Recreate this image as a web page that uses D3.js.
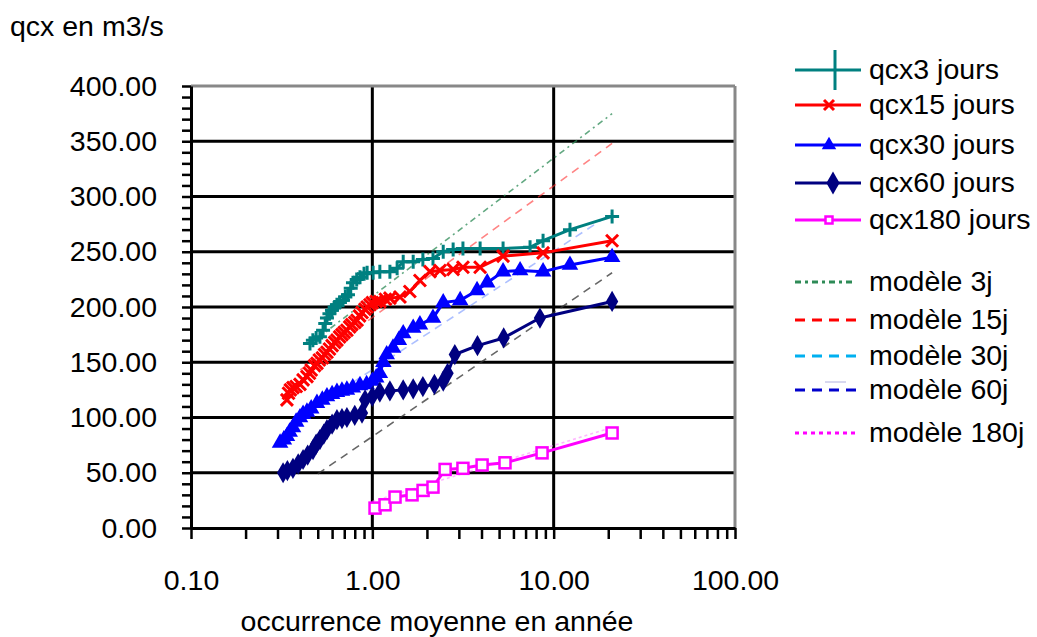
<!DOCTYPE html>
<html><head><meta charset="utf-8">
<script src="https://cdn.jsdelivr.net/npm/d3@7"></script>
<style>
body{margin:0;background:#fff;}
text{font-family:"Liberation Sans",Arial,sans-serif;fill:#000;}
</style>
</head><body>
<svg id="c" width="1037" height="637"></svg>
<script>
// ---------- data (x = occurrence moyenne en année, v = qcx m3/s) ----------
const yTickValues = [0,50,100,150,200,250,300,350,400];
const xTickValues = [0.1,1,10,100];

const qcx3 = [[0.453,167],[0.47,170],[0.49,172],[0.514,173],[0.535,179],[0.55,185],[0.562,190],[0.58,194],[0.599,197],[0.62,200],[0.638,202],[0.66,204],[0.689,206],[0.71,209],[0.734,211],[0.76,217],[0.782,222],[0.82,225],[0.855,227],[0.9,230],[0.936,231],[1.01,231],[1.1,232],[1.25,232],[1.37,235],[1.48,241],[1.68,241],[1.9,243],[2.16,244],[2.46,250],[2.79,252],[3.16,253],[3.93,253],[5.26,253],[7.41,254],[8.74,260],[12.3,270],[21,282]];
const qcx15 = [[0.338,116],[0.345,122],[0.353,125],[0.365,127],[0.38,128],[0.399,130],[0.415,134],[0.436,137],[0.45,140],[0.46,143],[0.48,147],[0.495,149],[0.51,152],[0.53,154],[0.545,157],[0.562,159],[0.58,162],[0.6,165],[0.62,168],[0.638,170],[0.66,173],[0.68,175],[0.7,177],[0.724,179],[0.75,182],[0.77,184],[0.8,186],[0.823,188],[0.85,192],[0.877,195],[0.91,198],[0.936,200],[0.97,202],[1.0,204],[1.05,205],[1.1,205],[1.18,207],[1.25,208],[1.42,209],[1.61,214],[1.83,224],[2.08,232],[2.36,233],[2.79,234],[3.16,236],[3.93,236],[5.26,246],[8.74,249],[21,260]];
const qcx30 = [[0.31,77],[0.325,80],[0.338,83],[0.35,87],[0.365,91],[0.38,96],[0.399,100],[0.415,103],[0.436,105],[0.46,108],[0.495,113],[0.53,116],[0.562,119],[0.6,121],[0.638,123],[0.68,124],[0.724,125],[0.78,127],[0.855,129],[0.93,130],[1.0,133],[1.05,136],[1.1,140],[1.15,150],[1.2,157],[1.3,163],[1.4,170],[1.48,176],[1.68,181],[1.83,184],[2.16,190],[2.46,204],[3.05,206],[3.78,215],[4.3,222],[5.26,232],[6.53,233],[8.74,232],[12.3,238],[21,245]];
const qcx60 = [[0.322,50],[0.34,52],[0.365,54],[0.39,58],[0.415,62],[0.44,66],[0.471,71],[0.49,76],[0.514,80],[0.54,85],[0.562,89],[0.6,94],[0.638,98],[0.68,99],[0.724,100],[0.8,102],[0.877,104],[0.912,116],[1.0,119],[1.1,123],[1.25,124],[1.48,125],[1.68,126],[1.9,128],[2.2,130],[2.46,133],[2.6,140],[2.85,157],[3.8,165],[5.3,172],[8.4,190],[21,205]];
const qcx180 = [[1.035,18],[1.175,21],[1.334,28],[1.656,30],[1.905,34],[2.16,37],[2.52,53],[3.16,54],[4.03,57],[5.39,59],[8.63,68],[21,86]];

const model3j = [[0.5,172],[21,375]];
const model15j = [[0.4,143],[21,348]];
const model30j = [[0.5,111],[21,285]];
const model60j = [[0.5,49],[21,231]];
const model180j = [[1,24],[21,91]];

const seriesNames = ["qcx3 jours","qcx15 jours","qcx30 jours","qcx60 jours","qcx180 jours"];
const modelNames = ["modèle 3j","modèle 15j","modèle 30j","modèle 60j","modèle 180j"];

// ---------- layout ----------
const svg = d3.select("#c");
const x = d3.scaleLog().domain([0.1,100]).range([191,735]);
const y = d3.scaleLinear().domain([0,400]).range([528,86]);
const FS = 28.5;

// grid
const g = svg.append("g");
g.selectAll("line.h").data(yTickValues.filter(v=>v>0&&v<400)).enter().append("line")
  .attr("x1",x(0.1)).attr("x2",x(100)).attr("y1",d=>y(d)).attr("y2",d=>y(d))
  .attr("stroke","#000").attr("stroke-width",3);
g.selectAll("line.v").data([1,10]).enter().append("line")
  .attr("x1",d=>x(d)).attr("x2",d=>x(d)).attr("y1",y(0)).attr("y2",y(400))
  .attr("stroke","#000").attr("stroke-width",3);
g.append("line").attr("x1",x(0.1)).attr("x2",x(100)).attr("y1",y(400)).attr("y2",y(400)).attr("stroke","#888").attr("stroke-width",3);
g.append("line").attr("x1",x(100)).attr("x2",x(100)).attr("y1",y(0)).attr("y2",y(400)).attr("stroke","#888").attr("stroke-width",3);

// axes
const yMinor = svg.append("g").attr("transform",`translate(${x(0.1)},0)`)
  .call(d3.axisLeft(y).tickValues(d3.range(0,401,10)).tickSize(9).tickSizeOuter(0).tickFormat(""));
yMinor.select(".domain").attr("stroke-width",3);
yMinor.selectAll(".tick line").attr("stroke-width",2.5);
const yLab = svg.append("g").attr("transform",`translate(${x(0.1)},0)`)
  .call(d3.axisLeft(y).tickValues(yTickValues).tickSize(0).tickPadding(34).tickFormat(d3.format(".2f")));
yLab.select(".domain").remove();
yLab.selectAll("text").attr("font-size",FS).attr("font-family","Liberation Sans, Arial, sans-serif").attr("fill","#000");

const xMinorVals = [];
[0.1,1,10].forEach(d=>{for(let k=1;k<10;k++) xMinorVals.push(d*k);});
xMinorVals.push(100);
const xMinor = svg.append("g").attr("transform",`translate(0,${y(0)})`)
  .call(d3.axisBottom(x).tickValues(xMinorVals).tickSize(11).tickSizeOuter(0).tickFormat(""));
xMinor.select(".domain").attr("stroke-width",3);
xMinor.selectAll(".tick line").attr("stroke-width",2.5);
const xLab = svg.append("g").attr("transform",`translate(0,${y(0)})`)
  .call(d3.axisBottom(x).tickValues(xTickValues).tickSize(0).tickPadding(42).tickFormat(d3.format(".2f")));
xLab.select(".domain").remove();
xLab.selectAll("text").attr("font-size",FS).attr("font-family","Liberation Sans, Arial, sans-serif").attr("fill","#000");

// titles
svg.append("text").attr("x",10).attr("y",36).attr("font-size",FS).text("qcx en m3/s");
svg.append("text").attr("x",437).attr("y",631).attr("text-anchor","middle").attr("font-size",FS).text("occurrence moyenne en année");

// ---------- models ----------
const line = d3.line().x(d=>x(d[0])).y(d=>y(d[1]));
const models = [
  {d:model3j, c:"#2e8b57", dash:"6,4,2,4", op:0.75},
  {d:model15j, c:"#ff3030", dash:"8,6", op:0.6},
  {d:model30j, c:"#6a8cff", dash:"8,6", op:0.55},
  {d:model60j, c:"#333333", dash:"8,6", op:0.75},
  {d:model180j, c:"#ff88ff", dash:"3,3", op:0.6}
];
models.forEach(m=>{
  svg.append("path").attr("d",line(m.d)).attr("fill","none").attr("stroke",m.c)
    .attr("stroke-width",1.6).attr("stroke-dasharray",m.dash).attr("opacity",m.op);
});

// ---------- series ----------
const series = [
  {d:qcx3, c:"#008080", m:"plus"},
  {d:qcx15, c:"#ff0000", m:"x"},
  {d:qcx30, c:"#0000ff", m:"tri"},
  {d:qcx60, c:"#000080", m:"dia"},
  {d:qcx180, c:"#ff00ff", m:"sq"}
];
function marker(sel, type, c, big){
  if(type==="plus"){
    const h = big?20:7;
    sel.append("path").attr("d",`M-${big?0:7},0H${big?0:7}M0,-${h}V${h}`).attr("stroke",c).attr("stroke-width",3).attr("fill","none");
  } else if(type==="x"){
    const s = big?5:6;
    sel.append("path").attr("d",`M-${s},-${s}L${s},${s}M-${s},${s}L${s},-${s}`).attr("stroke",c).attr("stroke-width",3).attr("fill","none");
  } else if(type==="tri"){
    sel.append("path").attr("d",d3.symbol(d3.symbolTriangle, big?90:120)()).attr("fill",c);
  } else if(type==="dia"){
    sel.append("path").attr("d",d3.symbol(d3.symbolDiamond, big?150:130)()).attr("fill",c);
  } else if(type==="sq"){
    const s = big?3.5:5.5;
    sel.append("rect").attr("x",-s).attr("y",-s).attr("width",2*s).attr("height",2*s)
      .attr("fill","#fff").attr("stroke",c).attr("stroke-width",2.5);
  }
}
series.forEach(s=>{
  svg.append("path").attr("d",line(s.d)).attr("fill","none").attr("stroke",s.c).attr("stroke-width",3).attr("stroke-linejoin","round");
  const gm = svg.append("g");
  s.d.forEach(p=>{
    const gg = gm.append("g").attr("transform",`translate(${x(p[0])},${y(p[1])})`);
    marker(gg, s.m, s.c, false);
  });
});

// ---------- legend ----------
const legRowsS = [70,105,145,183,220];
const legRowsM = [282,320,356,390,433];
const legMColors = ["#2e8b57","#ff0000","#00b0f0","#0000cc","#ff00ff"];
const legMDash = ["6,4,3,4","10,7","10,7","10,7","4,4"];
const lg = svg.append("g");
seriesNames.forEach((n,i)=>{
  const yy = legRowsS[i];
  lg.append("line").attr("x1",795).attr("x2",861).attr("y1",yy).attr("y2",yy).attr("stroke",series[i].c).attr("stroke-width",3);
  const gg = lg.append("g").attr("transform",`translate(${i===0?835:(i===3?833:829)},${yy})`);
  marker(gg, series[i].m, series[i].c, true);
  lg.append("text").attr("x",869).attr("y",yy+9).attr("font-size",FS).text(n);
});
modelNames.forEach((n,i)=>{
  const yy = legRowsM[i];
  lg.append("line").attr("x1",795).attr("x2",856).attr("y1",yy).attr("y2",yy).attr("stroke",legMColors[i]).attr("stroke-width",3).attr("stroke-dasharray",legMDash[i]);
  lg.append("text").attr("x",869).attr("y",yy+9).attr("font-size",FS).text(n);
});
lg.append("line").attr("x1",825).attr("x2",846).attr("y1",382).attr("y2",382).attr("stroke","#b0b0e0").attr("stroke-width",1);
</script>
</body></html>
